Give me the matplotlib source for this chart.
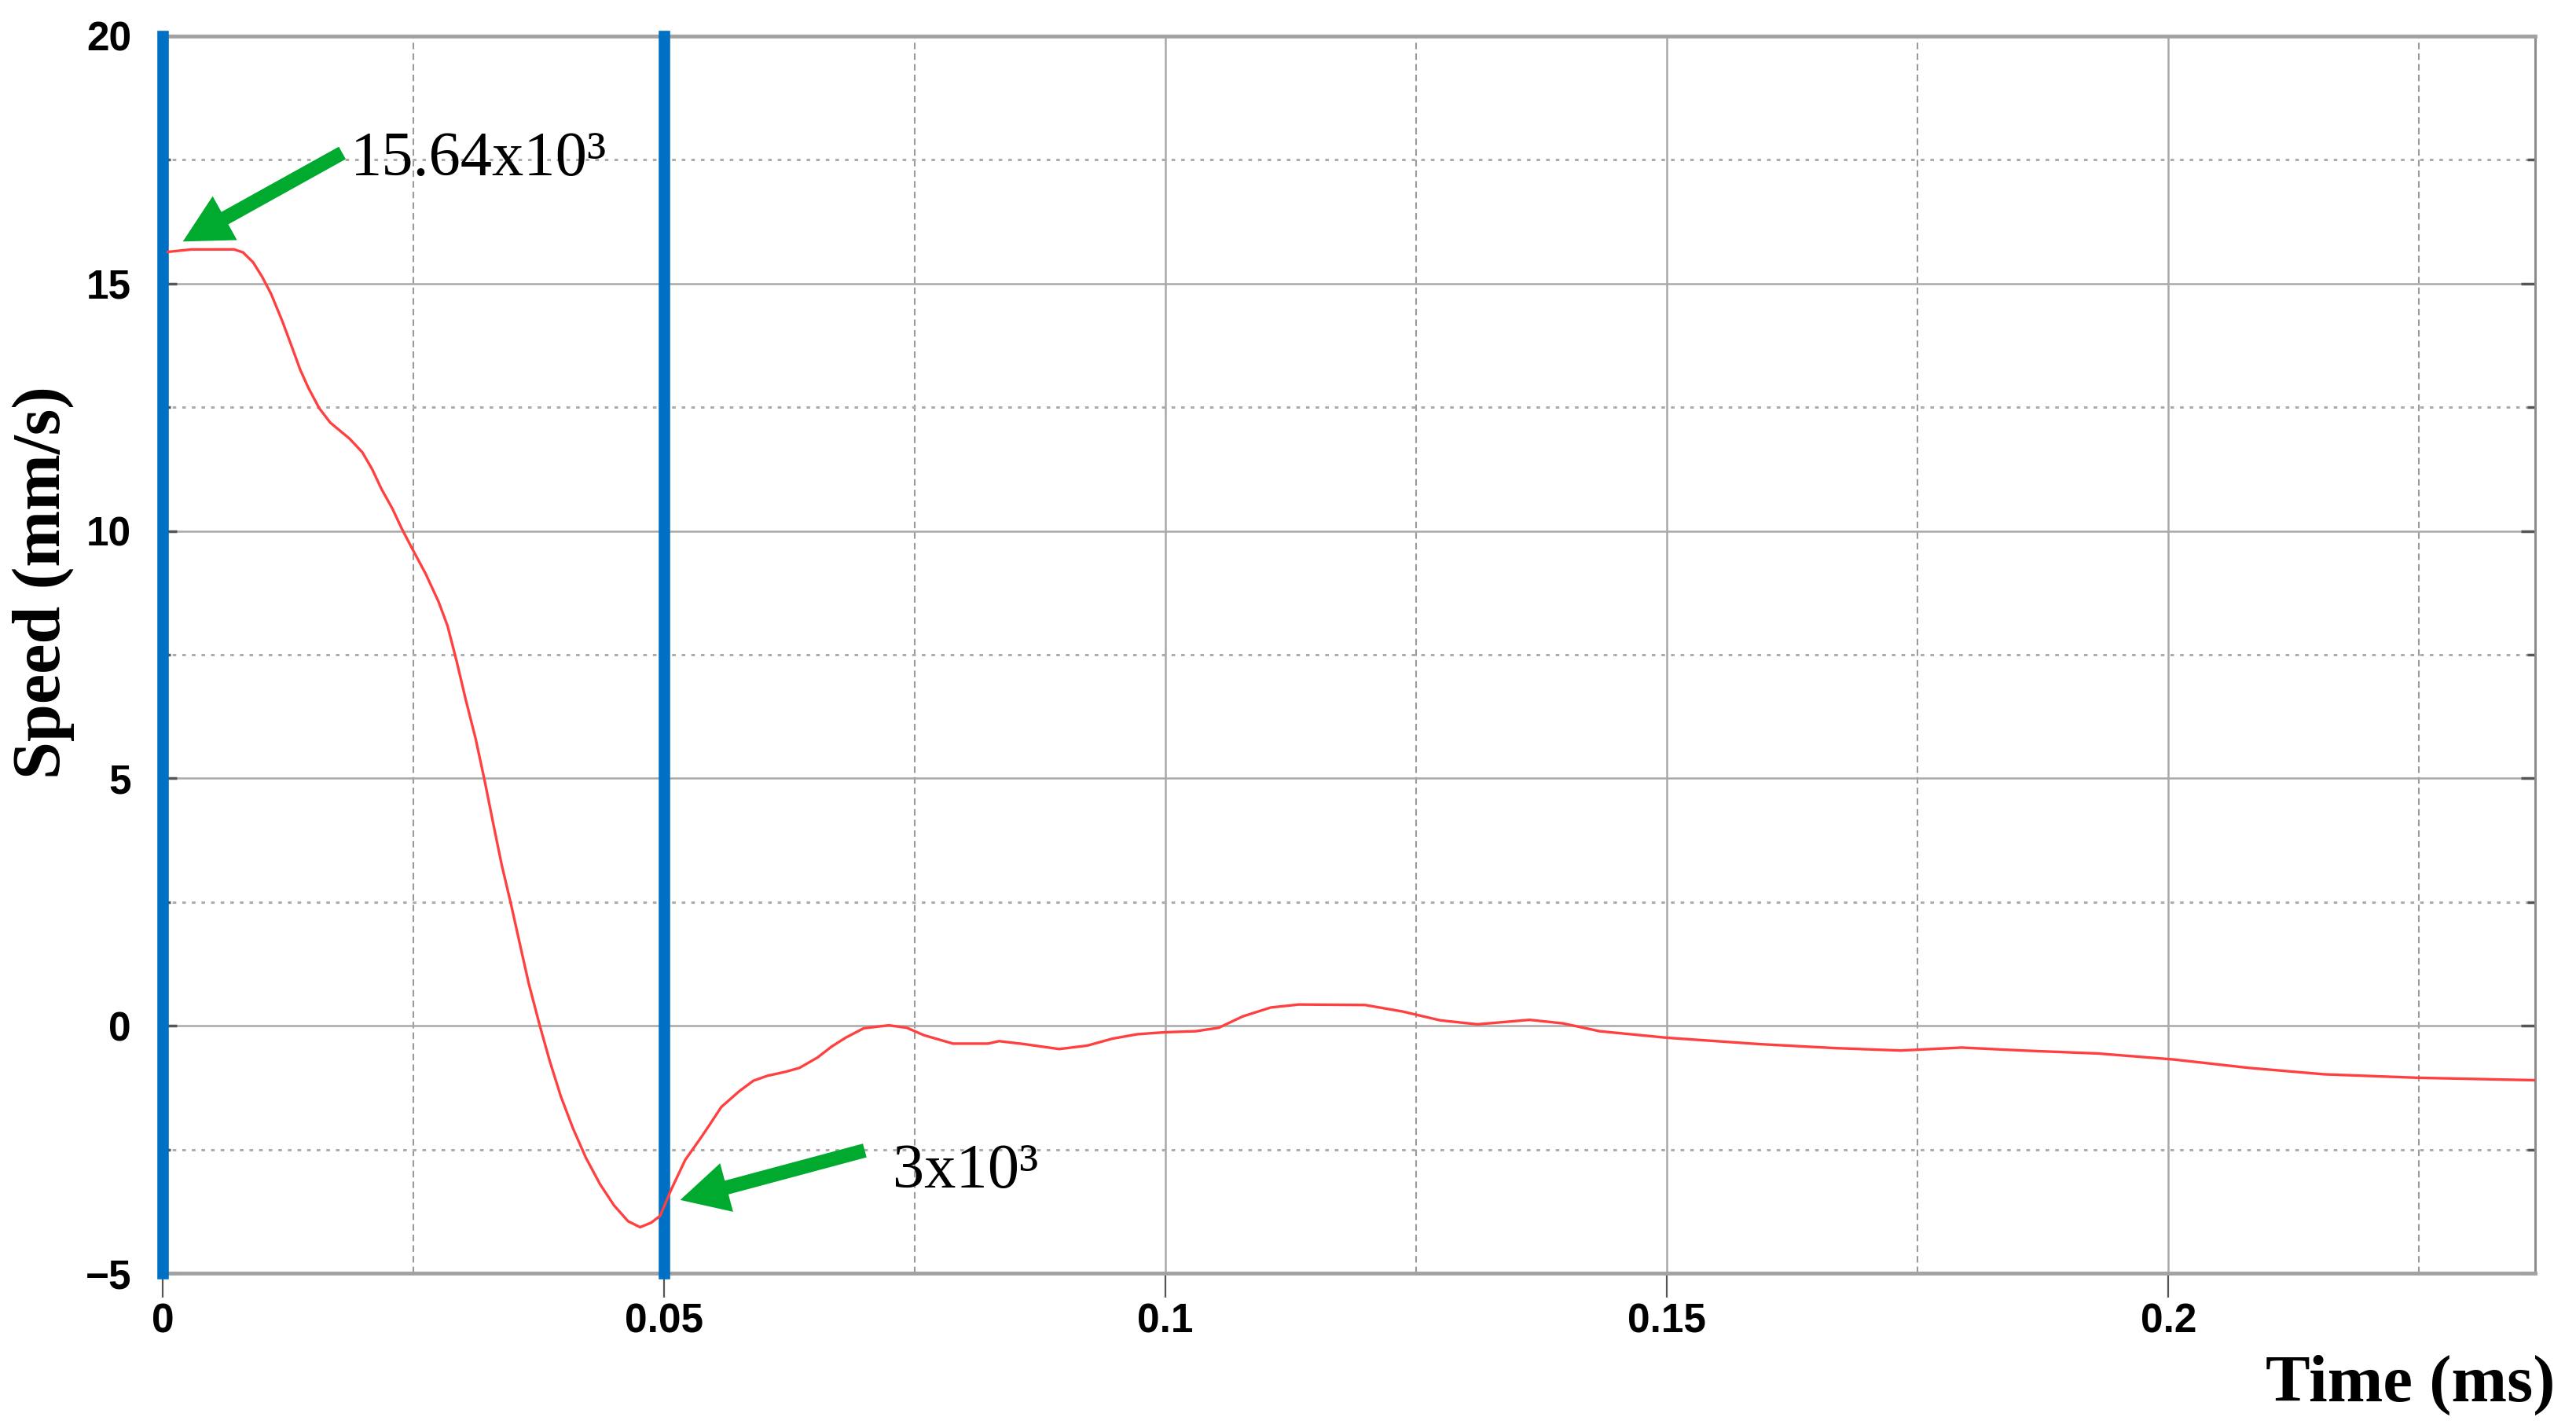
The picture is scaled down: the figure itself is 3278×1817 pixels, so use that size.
import matplotlib
matplotlib.use("Agg")
import matplotlib.pyplot as plt

# time (ms) and speed (x10^3 mm/s)
time_ms = [0.0005, 0.0029, 0.0071, 0.008, 0.009, 0.0099, 0.0108, 0.0119, 0.0128, 0.0137,
           0.0145, 0.0156, 0.0167, 0.0177, 0.0186, 0.0199, 0.0209, 0.0218, 0.0229, 0.0238,
           0.0248, 0.0262, 0.0275, 0.0284, 0.0293, 0.0302, 0.0312, 0.0321, 0.033, 0.0338,
           0.0347, 0.0356, 0.0365, 0.0376, 0.0386, 0.0397, 0.0409, 0.0422, 0.0436, 0.045,
           0.0464, 0.0476, 0.0487, 0.0496, 0.0507, 0.0521, 0.0536, 0.0545, 0.0557, 0.0575,
           0.0589, 0.0603, 0.0621, 0.0635, 0.0653, 0.0667, 0.0681, 0.0699, 0.0724, 0.0742,
           0.0759, 0.0788, 0.0823, 0.0834, 0.0859, 0.0894, 0.0922, 0.0947, 0.0972, 0.1,
           0.103, 0.1053, 0.1077, 0.1105, 0.1133, 0.1199, 0.1236, 0.1274, 0.1311, 0.1363,
           0.1396, 0.1433, 0.1499, 0.1592, 0.1667, 0.1733, 0.1794, 0.1855, 0.193, 0.2005,
           0.208, 0.2155, 0.2248, 0.2365]
speed = [15.64, 15.69, 15.69, 15.63, 15.43, 15.14, 14.79, 14.25, 13.76, 13.26,
         12.90, 12.48, 12.19, 12.02, 11.87, 11.59, 11.24, 10.85, 10.45, 10.06,
         9.67, 9.14, 8.57, 8.08, 7.37, 6.6, 5.8, 4.95, 4.04, 3.25,
         2.48, 1.66, 0.85, 0.0, -0.72, -1.43, -2.07, -2.67, -3.20, -3.63,
         -3.95, -4.07, -3.98, -3.84, -3.31, -2.71, -2.28, -2.01, -1.64, -1.32,
         -1.11, -1.01, -0.93, -0.85, -0.64, -0.42, -0.24, -0.05, 0.01, -0.04,
         -0.19, -0.36, -0.36, -0.31, -0.37, -0.47, -0.40, -0.26, -0.17, -0.13,
         -0.11, -0.04, 0.19, 0.37, 0.43, 0.42, 0.29, 0.11, 0.03, 0.12,
         0.05, -0.11, -0.24, -0.37, -0.45, -0.50, -0.44, -0.50, -0.56, -0.68,
         -0.85, -0.98, -1.05, -1.10]

marker_times = [0.0, 0.05]

x_ticks = [0, 0.05, 0.1, 0.15, 0.2]
x_tick_labels = ['0', '0.05', '0.1', '0.15', '0.2']
x_minor = [0.025, 0.075, 0.125, 0.175, 0.225]
y_ticks = [-5, 0, 5, 10, 15, 20]
y_tick_labels = ['\u22125', '0', '5', '10', '15', '20']
y_minor = [-2.5, 2.5, 7.5, 12.5, 17.5]

# annotation: label, text position, arrow tail, arrow tip
notes = [
    ('15.64x10\u00b3', (0.0187, 17.5), (0.0179, 17.64), (0.0020, 15.85)),
    ('3x10\u00b3', (0.0728, -2.96), (0.0700, -2.52), (0.0516, -3.52)),
]

fig = plt.figure(figsize=(32.78, 18.17), dpi=100)
ax = fig.add_axes([0.0632, 0.1084, 0.9210, 0.8663])

ax.set_xlim(0, 0.2366)
ax.set_ylim(-5, 20)

ax.set_xticks(x_ticks)
ax.set_xticklabels(x_tick_labels)
ax.set_xticks(x_minor, minor=True)
ax.set_yticks(y_ticks)
ax.set_yticklabels(y_tick_labels)
ax.set_yticks(y_minor, minor=True)

ax.grid(which='major', color='#a8a8a8', linewidth=1.8, linestyle='-')
ax.xaxis.grid(which='minor', color='#9a9a9a', linewidth=1.5, linestyle=(0, (4, 2.5)))
ax.yaxis.grid(which='minor', color='#acacac', linewidth=2.2, linestyle=(0, (1.5, 2.5)))
ax.set_axisbelow(True)

for s in ['top', 'bottom']:
    ax.spines[s].set_color('#a2a2a2')
    ax.spines[s].set_linewidth(3.5)
ax.spines['right'].set_color('#8c8c8c')
ax.spines['right'].set_linewidth(2.2)
ax.spines['left'].set_color('#a2a2a2')
ax.spines['left'].set_linewidth(2.0)

ax.tick_params(axis='x', which='major', direction='out', length=22, width=1.6,
               color='#555555', pad=5)
ax.tick_params(axis='x', which='minor', length=0)
ax.tick_params(axis='y', which='major', direction='in', length=13, width=2.5,
               color='#555555', pad=29, left=True, right=True)
ax.tick_params(axis='y', which='minor', direction='in', length=7, width=2.5,
               color='#555555', left=True, right=True)
for lab in ax.get_xticklabels() + ax.get_yticklabels():
    lab.set_fontfamily('Liberation Sans')
    lab.set_fontweight('bold')
    lab.set_fontsize(37)

for t in marker_times:
    ax.axvline(t, color='#0070c4', linewidth=10.5, clip_on=False, zorder=3)

ax.plot(time_ms, speed, color='#ff4040', linewidth=2.4, zorder=4)

for label, txt, tail, tip in notes:
    ax.annotate('', xy=tip, xytext=tail,
                arrowprops=dict(facecolor='#00aa2e', edgecolor='none',
                                width=13, headwidth=46, headlength=44, shrink=0),
                zorder=5)
    ax.text(txt[0], txt[1], label, fontsize=58, family='Liberation Serif',
            ha='left', va='center', color='black', zorder=6)

fig.text(0.017, 0.592, 'Speed (mm/s)', rotation=90, fontsize=62, fontweight='bold',
         family='Liberation Serif', ha='center', va='center')
fig.text(0.992, 0.030, 'Time (ms)', fontsize=61, fontweight='bold',
         family='Liberation Serif', ha='right', va='center')

fig.savefig('out.png', dpi=100)
